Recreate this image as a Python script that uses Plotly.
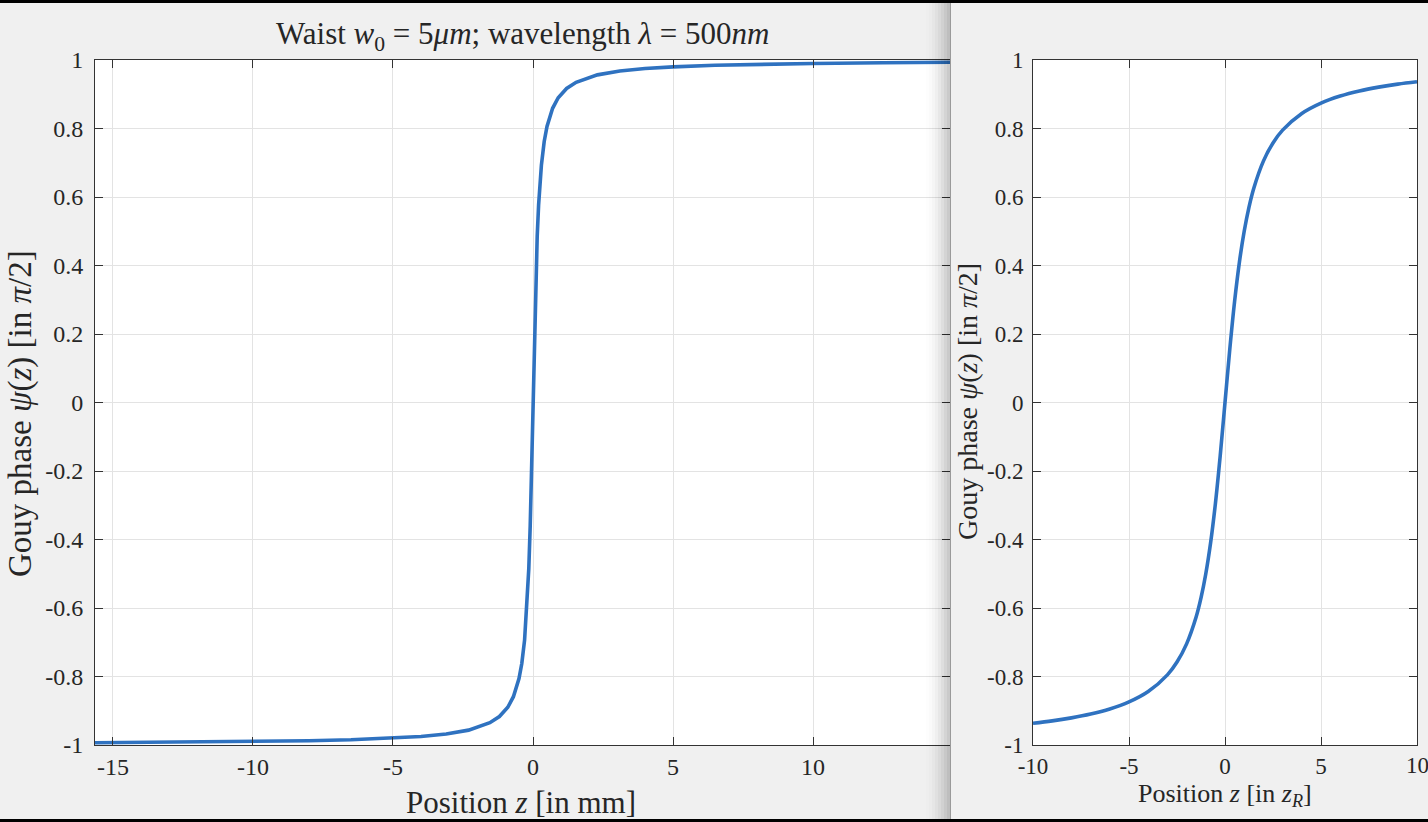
import plotly.graph_objects as go

# ---- data ----
z_mm = [-15.64, -12.5, -10.0, -8.0, -6.5, -5.0, -4.0, -3.1, -2.3, -1.54, -1.2, -0.9, -0.7,
        -0.5, -0.4, -0.3, -0.2, -0.15, -0.1, -0.05, 0.0, 0.05, 0.1, 0.15, 0.2, 0.3, 0.4,
        0.5, 0.7, 0.9, 1.2, 1.54, 2.3, 3.1, 4.0, 5.0, 6.5, 8.0, 10.0, 12.5, 14.89]
psi_mm = [-0.9936, -0.992, -0.990, -0.9875, -0.9846, -0.980, -0.975, -0.968, -0.9566, -0.935,
          -0.917, -0.890, -0.859, -0.806, -0.762, -0.693, -0.576, -0.485, -0.361, -0.196, 0.0,
          0.196, 0.361, 0.485, 0.576, 0.693, 0.762, 0.806, 0.859, 0.890, 0.917, 0.935, 0.9566,
          0.968, 0.975, 0.980, 0.9846, 0.9875, 0.990, 0.992, 0.9933]

z_zr = [-10, -9, -8, -7, -6, -5, -4, -3, -2.5, -2, -1.5, -1.25, -1, -0.75, -0.5, -0.25, 0,
        0.25, 0.5, 0.75, 1, 1.25, 1.5, 2, 2.5, 3, 4, 5, 6, 7, 8, 9, 10]
psi_zr = [-0.9365, -0.9296, -0.9208, -0.9097, -0.8949, -0.8743, -0.8440, -0.7952, -0.7578,
          -0.7048, -0.6257, -0.5705, -0.5, -0.4097, -0.2952, -0.1560, 0.0, 0.1560, 0.2952,
          0.4097, 0.5, 0.5705, 0.6257, 0.7048, 0.7578, 0.7952, 0.8440, 0.8743, 0.8949,
          0.9097, 0.9208, 0.9296, 0.9365]

y_ticks = [-1, -0.8, -0.6, -0.4, -0.2, 0, 0.2, 0.4, 0.6, 0.8, 1]
y_ticktext = ["-1", "-0.8", "-0.6", "-0.4", "-0.2", "0", "0.2", "0.4", "0.6", "0.8", "1"]
x1_ticks = [-15, -10, -5, 0, 5, 10]
x1_ticktext = ["-15", "-10", "-5", "0", "5", "10"]
x2_ticks = [-10, -5, 0, 5, 10]
x2_ticktext = ["-10", "-5", "0", "5", "10"]

W, H = 1428, 822
def px(x): return x / W
def py(y): return 1 - y / H

FONT = "Liberation Serif"
LINE = "#2f72c0"
AX = "#333333"
GRID = "#e3e3e3"
TXT = "#262626"

fig = go.Figure()
fig.add_trace(go.Scatter(x=z_mm, y=psi_mm, mode="lines", line=dict(color=LINE, width=3.6),
                         xaxis="x", yaxis="y", showlegend=False))
fig.add_trace(go.Scatter(x=z_zr, y=psi_zr, mode="lines", line=dict(color=LINE, width=3.6, shape="spline"),
                         xaxis="x2", yaxis="y2", showlegend=False))

common = dict(showgrid=True, gridcolor=GRID, gridwidth=1, zeroline=False, showline=True,
              linecolor=AX, linewidth=1, mirror="ticks", ticks="inside", ticklen=8,
              tickcolor=AX, tickwidth=1, automargin=False)

# the last right-panel x label sits on the window edge; it is drawn as an annotation below
x2_text_axis = x2_ticktext[:-1] + [""]

fig.update_layout(
    width=W, height=H, margin=dict(l=0, r=0, t=0, b=0, autoexpand=False),
    paper_bgcolor="#f0f0f0", plot_bgcolor="white",
    font=dict(family=FONT, color=TXT),
    xaxis=dict(domain=[px(95), px(950)], range=[-15.64, 14.89], tickvals=x1_ticks,
               ticktext=x1_ticktext, tickfont=dict(size=24), anchor="y", **common),
    yaxis=dict(domain=[py(745), py(60)], range=[-1, 1], tickvals=y_ticks, ticktext=y_ticktext,
               tickfont=dict(size=24), anchor="x", ticklabelstandoff=6, **common),
    xaxis2=dict(domain=[px(1033), px(1417)], range=[-10, 10], tickvals=x2_ticks,
                ticktext=x2_text_axis, tickfont=dict(size=23), anchor="y2", **common),
    yaxis2=dict(domain=[py(745), py(60)], range=[-1, 1], tickvals=y_ticks, ticktext=y_ticktext,
                tickfont=dict(size=23), anchor="x2", ticklabelstandoff=4, **common),
)

ann = [
    dict(text="Waist <i>w</i><sub>0</sub> = 5<i>μm</i>; wavelength <i>λ</i> = 500<i>nm</i>",
         x=px(522), y=py(36), size=31, angle=0),
    dict(text="Position <i>z</i> [in mm]", x=px(521), y=py(802), size=31, angle=0),
    dict(text="Gouy phase <i>ψ</i>(<i>z</i>) [in <i>π</i>/2]", x=px(20), y=py(414), size=33, angle=-90),
    dict(text="Position <i>z</i> [in <i>z</i><sub><i>R</i></sub>]", x=px(1225), y=py(795), size=26, angle=0),
    dict(text="Gouy phase <i>ψ</i>(<i>z</i>) [in <i>π</i>/2]", x=px(968), y=py(402), size=28, angle=-90),
    dict(text=x2_ticktext[-1], x=px(1417), y=py(765), size=23, angle=0),
]
for a in ann:
    fig.add_annotation(text=a["text"], x=a["x"], y=a["y"], xref="paper", yref="paper",
                       xanchor="center", yanchor="middle", showarrow=False, textangle=a["angle"],
                       font=dict(family=FONT, size=a["size"], color=TXT))

shapes = []
# window shadow on the left window's right edge
for i, op in enumerate([0.02, 0.04, 0.06, 0.08, 0.10, 0.12, 0.14, 0.16]):
    x0 = 926 + i * 3
    shapes.append(dict(type="rect", xref="paper", yref="paper", x0=px(x0), x1=px(950),
                       y0=py(819), y1=py(3), fillcolor="black", opacity=op * 0.3,
                       line=dict(width=0), layer="above"))
# divider line
shapes.append(dict(type="line", xref="paper", yref="paper", x0=px(950.5), x1=px(950.5),
                   y0=py(819), y1=py(3), line=dict(color="#9a9a9a", width=1), layer="above"))
# black frame bands
shapes.append(dict(type="rect", xref="paper", yref="paper", x0=0, x1=1, y0=py(3), y1=1,
                   fillcolor="black", line=dict(width=0), layer="above"))
shapes.append(dict(type="rect", xref="paper", yref="paper", x0=0, x1=1, y0=0, y1=py(819),
                   fillcolor="black", line=dict(width=0), layer="above"))
fig.update_layout(shapes=shapes)

fig.write_html("out.html", config={"responsive": False, "displayModeBar": False},
               post_script="document.body.style.margin='0';document.body.style.overflow='hidden';")
